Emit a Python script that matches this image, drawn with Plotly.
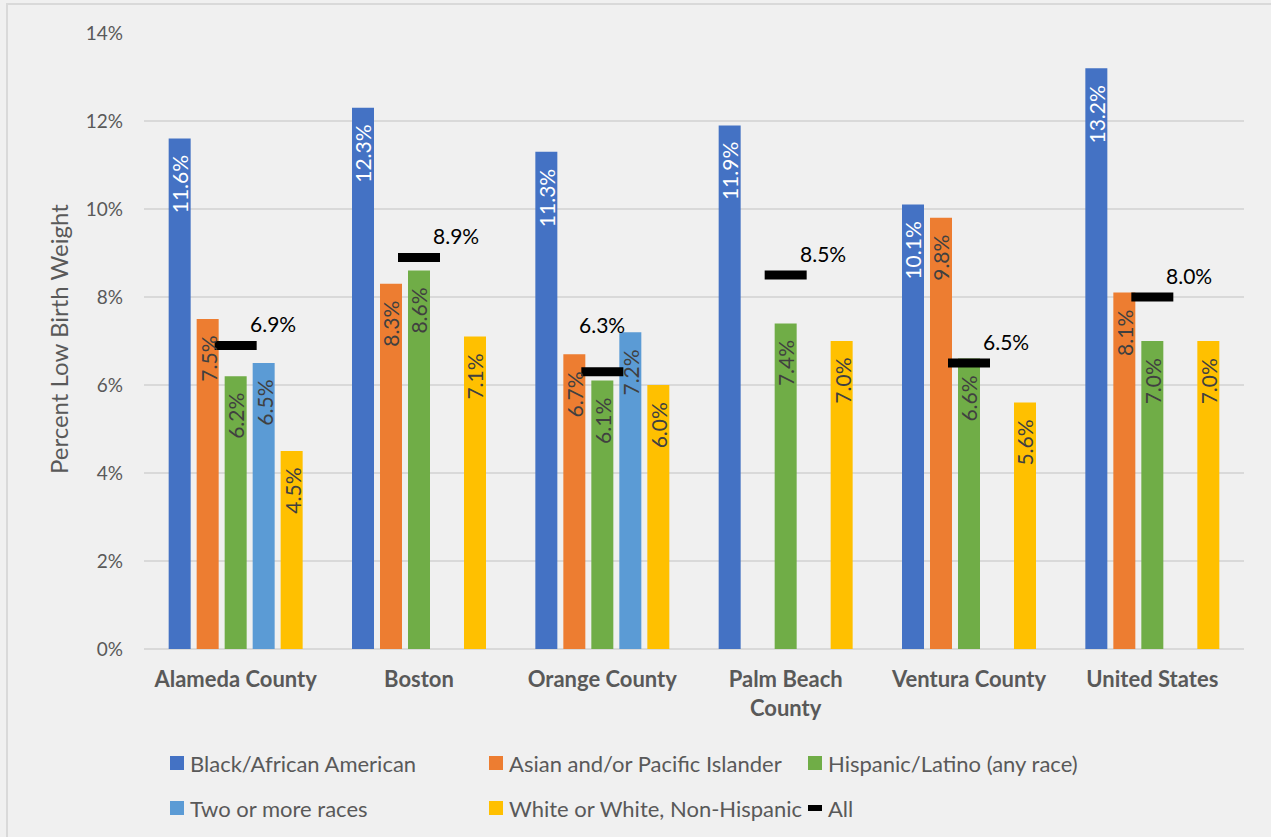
import plotly.graph_objects as go

# Categories and series (percent of births with low birth weight)
places = ["Alameda County", "Boston", "Orange County", "Palm Beach<br>County",
          "Ventura County", "United States"]
black = [11.6, 12.3, 11.3, 11.9, 10.1, 13.2]
asian = [7.5, 8.3, 6.7, None, 9.8, 8.1]
hispanic = [6.2, 8.6, 6.1, 7.4, 6.6, 7.0]
two_or_more = [6.5, None, 7.2, None, None, None]
white = [4.5, 7.1, 6.0, 7.0, 5.6, 7.0]
all_races = [6.9, 8.9, 6.3, 8.5, 6.5, 8.0]
y_ticks = [0, 2, 4, 6, 8, 10, 12, 14]

FONT = "Lato"
GREY = "#595959"
DARK = "#404040"

series = [
    ("Black/African American", black, "#4472C4", "white"),
    ("Asian and/or Pacific Islander", asian, "#ED7D31", DARK),
    ("Hispanic/Latino (any race)", hispanic, "#70AD47", DARK),
    ("Two or more races", two_or_more, "#5B9BD5", DARK),
    ("White or White, Non-Hispanic", white, "#FFC000", DARK),
]

# Plot geometry in pixels
L, R, T, B = 144, 27, 33, 188
W, H = 1271, 837
PW, PH = W - L - R, H - T - B
BARGAP, GROUPGAP = 0.2364, 0.2143
n_series = len(series)
slot = PW / len(places) * (1 - BARGAP) / n_series  # pixel width of one bar slot


def px_x(px):
    return (px - L) / PW


def px_y(py):
    return (H - B - py) / PH


fig = go.Figure()
for k, (name, vals, color, tcolor) in enumerate(series):
    fig.add_trace(go.Bar(
        name=name, x=places, y=vals,
        marker=dict(color=color, line=dict(width=0)),
        showlegend=False,
    ))
    # value labels, rotated, just inside the top of each bar
    offset = (k - (n_series - 1) / 2) * slot
    for p, v in zip(places, vals):
        if v is None:
            continue
        fig.add_annotation(x=p, y=v, text=f"{v:.1f}%", showarrow=False,
                           textangle=-90, xshift=offset, yshift=-15,
                           xanchor="center", yanchor="top",
                           font=dict(family=FONT, size=21, color=tcolor))

# Overall rate shown as a dash at each category centre
fig.add_trace(go.Scatter(
    name="All", x=places, y=all_races, mode="markers",
    marker=dict(symbol="line-ew", size=30, color="black",
                line=dict(color="black", width=9)),
    showlegend=False,
))

# Labels for the overall dash (pixel offsets from the dash centre)
label_shift = {2: (0, 47)}
for i, (p, v) in enumerate(zip(places, all_races)):
    dx, dy = label_shift.get(i, (37, 22))
    fig.add_annotation(x=p, y=v, text=f"{v:.1f}%", showarrow=False,
                       xshift=dx, yshift=dy, xanchor="center", yanchor="middle",
                       font=dict(family=FONT, size=21, color="black"))

# Hand-placed legend: square/dash swatch + label
legend_items = [
    ("Black/African American", "#4472C4", 177, 763, "sq"),
    ("Asian and/or Pacific Islander", "#ED7D31", 496, 763, "sq"),
    ("Hispanic/Latino (any race)", "#70AD47", 815, 763, "sq"),
    ("Two or more races", "#5B9BD5", 177, 808, "sq"),
    ("White or White, Non-Hispanic", "#FFC000", 496, 808, "sq"),
    ("All", "black", 815, 808, "dash"),
]
for label, color, cx, cy, kind in legend_items:
    hh = 7 if kind == "sq" else 3
    fig.add_shape(type="rect", xref="paper", yref="paper",
                  xsizemode="pixel", ysizemode="pixel",
                  xanchor=px_x(cx), yanchor=px_y(cy),
                  x0=-7, x1=7, y0=-hh, y1=hh,
                  fillcolor=color, line=dict(width=0))
    fig.add_annotation(xref="paper", yref="paper", x=px_x(cx + 11), y=px_y(cy),
                       text=label, showarrow=False, xanchor="left",
                       yanchor="middle",
                       font=dict(family=FONT, size=22, color=GREY))

# Y axis title
fig.add_annotation(xref="paper", yref="paper", x=px_x(58), y=px_y(339),
                   text="Percent Low Birth Weight", textangle=-90,
                   showarrow=False, xanchor="center", yanchor="middle",
                   font=dict(family=FONT, size=24, color=GREY))

# Chart frame
fig.add_shape(type="rect", xref="paper", yref="paper",
              x0=px_x(7), x1=px_x(1290), y0=px_y(4), y1=px_y(860),
              line=dict(color="#d9d9d9", width=2), layer="below")

fig.update_layout(
    width=W, height=H,
    margin=dict(l=L, r=R, t=T, b=B, pad=0),
    paper_bgcolor="#f0f0f0", plot_bgcolor="#f0f0f0",
    barmode="group", bargap=BARGAP, bargroupgap=GROUPGAP,
    font=dict(family=FONT, color=GREY),
    showlegend=False,
)
fig.update_xaxes(
    type="category", showgrid=False, showline=False, zeroline=False,
    ticks="", ticklabelstandoff=15,
    tickfont=dict(family=FONT, size=22, color=GREY, weight="bold"),
)
fig.update_yaxes(
    range=[0, 14], tickvals=y_ticks, ticktext=[f"{t}%" for t in y_ticks],
    showgrid=True, gridcolor="#d9d9d9", gridwidth=1.5,
    zeroline=True, zerolinecolor="#d9d9d9", zerolinewidth=1.5,
    showline=False, ticks="", ticklabelstandoff=20,
    tickfont=dict(family=FONT, size=19, color=GREY),
)

fig.write_html("out.html")
